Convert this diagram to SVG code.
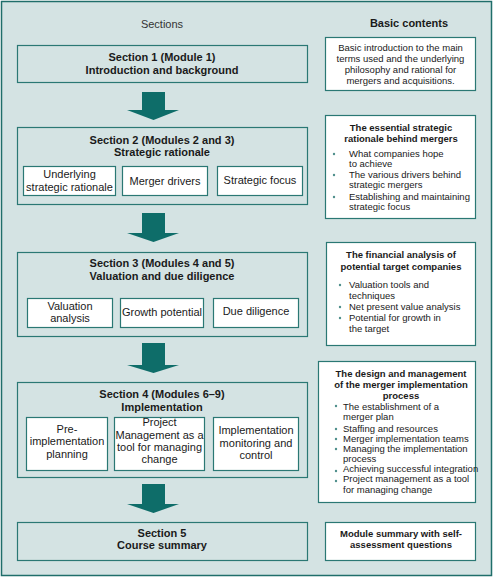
<svg xmlns="http://www.w3.org/2000/svg" width="493" height="577" viewBox="0 0 493 577">
<style>
text{font-family:"Liberation Sans",Arial,sans-serif;fill:#1a1a1a}
.sec{fill:none;stroke:#2a7874;stroke-width:1.2}
.wb{fill:#fff;stroke:#2a7874;stroke-width:1.2}
.t{font-size:11px;font-weight:bold;text-anchor:middle}
.s{font-size:11px;text-anchor:middle}
.r{font-size:9.5px}
.rb{font-size:9.5px;font-weight:bold;text-anchor:middle}
.rc{font-size:9.5px;text-anchor:middle}
.dot{fill:#4f8f8c}
.arr{fill:#0e6d69}
</style>
<rect x="1.5" y="1.5" width="490" height="574" fill="#d4e3e3" stroke="#1f6e6a" stroke-width="1.5"/>
<text x="162" y="28" class="s" style="fill:#333">Sections</text>
<text x="409" y="27" class="t">Basic contents</text>

<g id="connectors">
<path class="arr" d="M142,92H165V110H179L153.5,120L127,110H142Z"/>
<path class="arr" d="M142,213H165V233H179L153.5,242L127,233H142Z"/>
<path class="arr" d="M142,343H165V365H179L153.5,373L127,365H142Z"/>
<path class="arr" d="M142,484H165V504H179L153.5,513L127,504H142Z"/>
</g>

<g id="section1">
<rect class="sec" x="17.5" y="45.5" width="290" height="37"/>
<text x="162" y="61" class="t">Section 1 (Module 1)</text>
<text x="162" y="74" class="t">Introduction and background</text>
</g>

<g id="section2">
<rect class="sec" x="17.5" y="127.5" width="290" height="77"/>
<text x="162" y="144" class="t">Section 2 (Modules 2 and 3)</text>
<text x="162" y="156" class="t">Strategic rationale</text>
<g id="s2a"><rect class="wb" x="23.5" y="166.5" width="92" height="29"/>
<text x="69.5" y="178" class="s">Underlying</text><text x="69.5" y="191" class="s">strategic rationale</text></g>
<g id="s2b"><rect class="wb" x="122.5" y="166.5" width="85" height="29"/>
<text x="165" y="185" class="s">Merger drivers</text></g>
<g id="s2c"><rect class="wb" x="217.5" y="166.5" width="85" height="29"/>
<text x="260" y="184" class="s">Strategic focus</text></g>
</g>

<g id="section3">
<rect class="sec" x="17.5" y="252.5" width="290" height="84"/>
<text x="162" y="267" class="t">Section 3 (Modules 4 and 5)</text>
<text x="162" y="280" class="t">Valuation and due diligence</text>
<g id="s3a"><rect class="wb" x="27.5" y="298.5" width="85" height="29"/>
<text x="70" y="310" class="s">Valuation</text><text x="70" y="322" class="s">analysis</text></g>
<g id="s3b"><rect class="wb" x="120.5" y="298.5" width="83" height="29"/>
<text x="162" y="316" class="s">Growth potential</text></g>
<g id="s3c"><rect class="wb" x="213.5" y="298.5" width="85" height="29"/>
<text x="256" y="315" class="s">Due diligence</text></g>
</g>

<g id="section4">
<rect class="sec" x="17.5" y="382.5" width="290" height="95"/>
<text x="162" y="398" class="t">Section 4 (Modules 6–9)</text>
<text x="162" y="411" class="t">Implementation</text>
<g id="s4a"><rect class="wb" x="26.5" y="417.5" width="81" height="53"/>
<text x="67" y="433" class="s">Pre-</text><text x="67" y="445" class="s">implementation</text><text x="67" y="458" class="s">planning</text></g>
<g id="s4b"><rect class="wb" x="114.5" y="417.5" width="90" height="53"/>
<text x="159.5" y="426" class="s">Project</text><text x="159.5" y="439" class="s">Management as a</text><text x="159.5" y="451" class="s">tool for managing</text><text x="159.5" y="463" class="s">change</text></g>
<g id="s4c"><rect class="wb" x="213.5" y="417.5" width="85" height="53"/>
<text x="256" y="434" class="s">Implementation</text><text x="256" y="447" class="s">monitoring and</text><text x="256" y="459" class="s">control</text></g>
</g>

<g id="section5">
<rect class="sec" x="17.5" y="522.5" width="290" height="38"/>
<text x="162" y="537" class="t">Section 5</text>
<text x="162" y="549" class="t">Course summary</text>
</g>

<g id="content1">
<rect class="wb" x="325.5" y="37.5" width="150" height="53"/>
<text x="400.5" y="51" class="rc">Basic introduction to the main</text>
<text x="400.5" y="62" class="rc">terms used and the underlying</text>
<text x="400.5" y="73" class="rc">philosophy and rational for</text>
<text x="400.5" y="84" class="rc">mergers and acquisitions.</text>
</g>

<g id="content2">
<rect class="wb" x="325.5" y="115.5" width="150" height="103"/>
<text x="401" y="131" class="rb">The essential strategic</text>
<text x="401" y="142" class="rb">rationale behind mergers</text>
<circle class="dot" cx="334" cy="154" r="1.2"/>
<text x="349" y="157" class="r">What companies hope</text>
<text x="349" y="167" class="r">to achieve</text>
<circle class="dot" cx="334" cy="175" r="1.2"/>
<text x="349" y="178" class="r">The various drivers behind</text>
<text x="349" y="188" class="r">strategic mergers</text>
<circle class="dot" cx="334" cy="197" r="1.2"/>
<text x="349" y="200" class="r">Establishing and maintaining</text>
<text x="349" y="210" class="r">strategic focus</text>
</g>

<g id="content3">
<rect class="wb" x="326.5" y="242.5" width="149" height="103"/>
<text x="401" y="258" class="rb">The financial analysis of</text>
<text x="401" y="270" class="rb">potential target companies</text>
<circle class="dot" cx="340" cy="285" r="1.2"/>
<text x="349" y="288" class="r">Valuation tools and</text>
<text x="349" y="299" class="r">techniques</text>
<circle class="dot" cx="340" cy="307" r="1.2"/>
<text x="349" y="310" class="r">Net present value analysis</text>
<circle class="dot" cx="340" cy="318" r="1.2"/>
<text x="349" y="321" class="r">Potential for growth in</text>
<text x="349" y="332" class="r">the target</text>
</g>

<g id="content4">
<rect class="wb" x="318.5" y="361.5" width="157" height="141"/>
<text x="401" y="377" class="rb">The design and management</text>
<text x="401" y="388" class="rb">of the merger implementation</text>
<text x="401" y="398.5" class="rb">process</text>
<circle class="dot" cx="336" cy="406" r="1.2"/>
<text x="343" y="409.5" class="r">The establishment of a</text>
<text x="343" y="420" class="r">merger plan</text>
<circle class="dot" cx="336" cy="429" r="1.2"/>
<text x="343" y="432" class="r">Staffing and resources</text>
<circle class="dot" cx="336" cy="439" r="1.2"/>
<text x="343" y="442" class="r">Merger implementation teams</text>
<circle class="dot" cx="336" cy="449" r="1.2"/>
<text x="343" y="452" class="r">Managing the implementation</text>
<text x="343" y="462" class="r">process</text>
<circle class="dot" cx="336" cy="471" r="1.2"/>
<text x="343" y="472" class="r">Achieving successful integration</text>
<circle class="dot" cx="336" cy="481" r="1.2"/>
<text x="343" y="482" class="r">Project management as a tool</text>
<text x="343" y="493" class="r">for managing change</text>
</g>

<g id="content5">
<rect class="wb" x="325.5" y="522.5" width="150" height="38"/>
<text x="401" y="537" class="rb">Module summary with self-</text>
<text x="401" y="548" class="rb">assessment questions</text>
</g>
</svg>
